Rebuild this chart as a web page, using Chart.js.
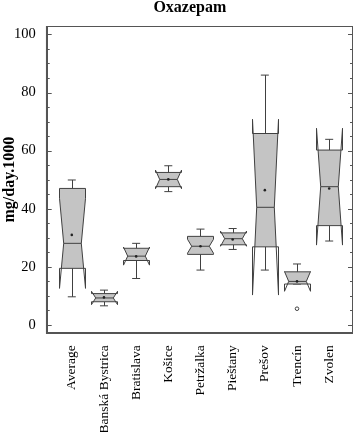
<!DOCTYPE html>
<html>
<head>
<meta charset="utf-8">
<script src="https://cdn.jsdelivr.net/npm/chart.js@4/dist/chart.umd.min.js"></script>
<style>
  body { margin: 0; background: #fff; }
</style>
</head>
<body>
<canvas id="oxazepam" width="358" height="432"></canvas>
<script>
var titleText = 'Oxazepam';
var yTitle = 'mg/day.1000';
var categories = ['Average', 'Banská Bystrica', 'Bratislava', 'Košice', 'Petržalka', 'Pieštany', 'Prešov', 'Trencín', 'Zvolen'];
var yTicks = [0, 20, 40, 60, 80, 100];

// box plot values
var whiskerLow  = [9.7, 6.6, 16.0, 45.9, 18.9, 26.0, 18.9, 14.1, 28.9];
var q1          = [19.5, 8.0, 22.2, 47.6, 24.3, 27.6, 26.9, 14.1, 34.2];
var median      = [28.1, 9.3, 23.7, 50.1, 27.1, 29.7, 40.5, 15.0, 47.6];
var q3          = [47.0, 10.8, 26.4, 52.5, 30.5, 31.7, 65.9, 18.3, 60.2];
var whiskerHigh = [49.9, 12.0, 28.1, 54.8, 33.0, 33.2, 86.0, 21.0, 63.9];
var notchLow    = [12.6, 7.0, 20.6, 46.9, 24.7, 27.1, 10.3, 11.6, 27.5];
var notchHigh   = [43.6, 11.6, 26.8, 53.3, 29.5, 32.3, 70.8, 18.4, 67.7];
var means       = [31.0, 9.5, 23.6, 50.1, 27.1, 29.4, 46.4, 15.0, 47.0];
var outlierCat  = [7];
var outlierVal  = [5.6];

var serif = "'Liberation Serif', 'Times New Roman', serif";
var lineCol = '#404040';
var boxFill = '#c4c4c4';

// notched boxes, whiskers, frame and inward ticks
var boxPlugin = {
  id: 'boxes',
  beforeDatasetsDraw: function (chart) {
    var ctx = chart.ctx, xs = chart.scales.x, ys = chart.scales.y;
    ctx.save();
    ctx.lineWidth = 1;
    ctx.strokeStyle = lineCol;
    for (var i = 0; i < categories.length; i++) {
      var cx = xs.getPixelForValue(i);
      var L = Math.round(cx - 13) + 0.5, R = Math.round(cx + 13) + 0.5, ind = 4.2;
      var yq1 = ys.getPixelForValue(q1[i]), yq3 = ys.getPixelForValue(q3[i]);
      var ym = ys.getPixelForValue(median[i]);
      var ynl = ys.getPixelForValue(notchLow[i]), ynh = ys.getPixelForValue(notchHigh[i]);
      var ywl = ys.getPixelForValue(whiskerLow[i]), ywh = ys.getPixelForValue(whiskerHigh[i]);

      // whiskers
      ctx.beginPath();
      ctx.moveTo(Math.round(cx) + 0.5, yq3); ctx.lineTo(Math.round(cx) + 0.5, ywh);
      ctx.moveTo(cx - 4, ywh); ctx.lineTo(cx + 4, ywh);
      ctx.moveTo(Math.round(cx) + 0.5, yq1); ctx.lineTo(Math.round(cx) + 0.5, ywl);
      ctx.moveTo(cx - 4, ywl); ctx.lineTo(cx + 4, ywl);
      ctx.stroke();

      var path = function () {
        ctx.beginPath();
        ctx.moveTo(L, yq1);
        ctx.lineTo(L, ynl);
        ctx.lineTo(L + ind, ym);
        ctx.lineTo(L, ynh);
        ctx.lineTo(L, yq3);
        ctx.lineTo(R, yq3);
        ctx.lineTo(R, ynh);
        ctx.lineTo(R - ind, ym);
        ctx.lineTo(R, ynl);
        ctx.lineTo(R, yq1);
        ctx.closePath();
      };
      // fill only between the hinges
      ctx.save();
      ctx.beginPath();
      ctx.rect(L - 5, yq3, R - L + 10, yq1 - yq3);
      ctx.clip();
      path();
      ctx.fillStyle = boxFill;
      ctx.fill();
      ctx.restore();
      path();
      ctx.stroke();
      // median
      ctx.beginPath();
      ctx.moveTo(L + ind, ym); ctx.lineTo(R - ind, ym);
      ctx.stroke();
    }
    ctx.restore();
  },
  afterDraw: function (chart) {
    var ctx = chart.ctx, a = chart.chartArea, ys = chart.scales.y;
    ctx.save();
    ctx.strokeStyle = '#555';
    ctx.lineWidth = 1;
    for (var v = 0; v <= 100; v += 5) {
      var y = Math.round(ys.getPixelForValue(v)) + 0.5;
      var len = v % 20 === 0 ? 5 : 3;
      ctx.beginPath();
      ctx.moveTo(a.left, y); ctx.lineTo(a.left + len, y);
      ctx.moveTo(a.right, y); ctx.lineTo(a.right - len, y);
      ctx.stroke();
    }
    ctx.strokeRect(Math.round(a.left) + 0.5, Math.round(a.top) + 0.5, Math.round(a.right - a.left) - 1, Math.round(a.bottom - a.top) - 1);
    ctx.lineWidth = 1.5;
    ctx.beginPath();
    ctx.moveTo(a.left, a.top); ctx.lineTo(a.left, a.bottom); ctx.lineTo(a.right, a.bottom);
    ctx.stroke();
    // title
    ctx.fillStyle = '#000';
    ctx.font = 'bold 16px ' + serif;
    ctx.textAlign = 'center';
    ctx.textBaseline = 'alphabetic';
    ctx.fillText(titleText, (a.left + a.right) / 2 - 10, 12);
    ctx.restore();
  }
};

var meanPoints = means.map(function (m, i) { return { x: i, y: m }; });
var outliers = outlierCat.map(function (c, i) { return { x: c, y: outlierVal[i] }; });

var ctx = document.getElementById('oxazepam');
var chart = new Chart(ctx, {
  type: 'scatter',
  data: {
    datasets: [
      {
        label: 'mean',
        data: meanPoints,
        pointRadius: 1.3,
        pointBackgroundColor: '#222',
        pointBorderColor: '#222',
        pointBorderWidth: 0
      },
      {
        label: 'outlier',
        data: outliers,
        pointRadius: 1.8,
        pointBackgroundColor: '#fff',
        pointBorderColor: '#444',
        pointBorderWidth: 1
      }
    ]
  },
  options: {
    responsive: false,
    animation: false,
    devicePixelRatio: 1,
    layout: { padding: { top: 26, right: 1.5, left: 0, bottom: 0 } },
    plugins: {
      legend: { display: false },
      tooltip: { enabled: false },
      title: { display: false }
    },
    scales: {
      x: {
        type: 'linear',
        min: -0.78,
        max: 8.74,
        grid: { display: false },
        border: { display: false },
        afterBuildTicks: function (s) {
          s.ticks = categories.map(function (c, i) { return { value: i }; });
        },
        afterFit: function (s) { s.height = 98.7; },
        ticks: {
          autoSkip: false,
          minRotation: 90,
          maxRotation: 90,
          padding: 4,
          color: '#000',
          font: { family: serif, size: 13.5 },
          callback: function (v) { return categories[v]; }
        }
      },
      y: {
        min: -2.86,
        max: 102.9,
        grid: { display: false },
        border: { display: false },
        afterBuildTicks: function (s) {
          s.ticks = yTicks.map(function (v) { return { value: v }; });
        },
        afterFit: function (s) { s.width = 46.7; },
        ticks: {
          padding: 3,
          color: '#000',
          font: { family: serif, size: 14.5 }
        },
        title: {
          display: true,
          text: yTitle,
          color: '#000',
          padding: 0,
          font: { family: serif, size: 16, weight: 'bold' }
        }
      }
    }
  },
  plugins: [boxPlugin]
});
</script>
</body>
</html>
